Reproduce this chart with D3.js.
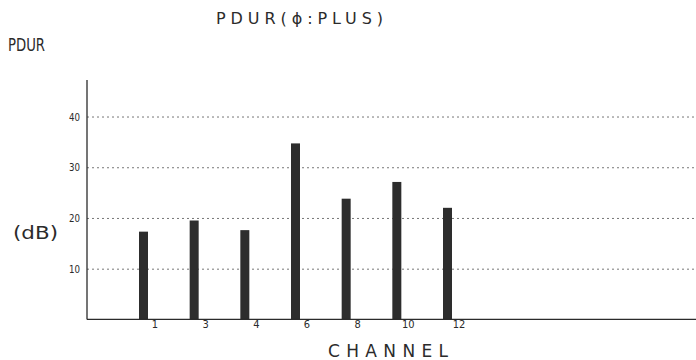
<!DOCTYPE html>
<html><head><meta charset="utf-8">
<script src="https://cdn.jsdelivr.net/npm/d3@7"></script>
<style>
html,body{margin:0;padding:0;background:#fff;}
svg{display:block;}
</style></head>
<body>
<script>
const channels = ["1","3","4","6","8","10","12"];
const values = [17.3, 19.5, 17.6, 34.7, 23.8, 27.1, 22.0];
const yTicks = [10, 20, 30, 40];
const titleText = "PDUR(\u03d5:PLUS)";
const yTitle = "PDUR";
const yUnit = "(dB)";
const xTitle = "CHANNEL";

const W = 696, H = 360;
const svg = d3.select("body").append("svg").attr("width", W).attr("height", H);

const x0 = 87, yBase = 319.4, yTop = 80;
const x = d3.scalePoint().domain(channels).range([143.5, 447.5]);
const y = d3.scaleLinear().domain([0, 47.2]).range([yBase, yTop]);

const ink = "#2b2b2b";
const narrow = "'DejaVu Sans Condensed','Liberation Sans Narrow','DejaVu Sans',sans-serif";

// grid + y tick labels
const gy = svg.append("g").attr("transform", `translate(${x0},0)`)
  .call(d3.axisLeft(y).tickValues(yTicks).tickSize(-(W - x0)).tickPadding(7).tickFormat(d3.format("d")));
gy.select(".domain").remove();
gy.selectAll(".tick line").attr("stroke", "#777").attr("stroke-width", 1).attr("stroke-dasharray", "2,3");
gy.selectAll(".tick text").attr("font-family", narrow).attr("font-size", 11).attr("fill", ink)
  .attr("textLength", 11).attr("lengthAdjust", "spacingAndGlyphs");

// bars
svg.append("g").selectAll("rect").data(values).join("rect")
  .attr("x", (d, i) => x(channels[i]) - 4.5)
  .attr("width", 9)
  .attr("y", d => y(d))
  .attr("height", d => y(0) - y(d))
  .attr("fill", "#2d2d2d");

// axis lines
svg.append("line").attr("x1", x0).attr("x2", x0).attr("y1", yTop).attr("y2", yBase)
  .attr("stroke", ink).attr("stroke-width", 1.3);
svg.append("line").attr("x1", x0).attr("x2", W).attr("y1", yBase).attr("y2", yBase)
  .attr("stroke", ink).attr("stroke-width", 1.3);

// x tick labels
const gx = svg.append("g").attr("transform", `translate(0,${yBase})`)
  .call(d3.axisBottom(x).tickSize(0).tickPadding(1));
gx.select(".domain").remove();
gx.selectAll(".tick text").attr("font-family", narrow).attr("font-size", 11).attr("fill", ink)
  .attr("dx", 11);

// titles
svg.append("text").attr("x", 216).attr("y", 24).text(titleText)
  .attr("font-family", "'DejaVu Sans',sans-serif").attr("font-size", 16).attr("fill", ink)
  .attr("textLength", 167).attr("lengthAdjust", "spacing");
svg.append("text").attr("x", 8).attr("y", 51).text(yTitle)
  .attr("font-family", narrow).attr("font-size", 18).attr("fill", ink)
  .attr("textLength", 37).attr("lengthAdjust", "spacingAndGlyphs");
svg.append("text").attr("x", 13).attr("y", 239).text(yUnit)
  .attr("font-family", "'DejaVu Sans',sans-serif").attr("font-size", 17).attr("fill", ink)
  .attr("textLength", 45).attr("lengthAdjust", "spacingAndGlyphs");
svg.append("text").attr("x", 328).attr("y", 357).text(xTitle)
  .attr("font-family", "'DejaVu Sans',sans-serif").attr("font-size", 17).attr("fill", ink)
  .attr("textLength", 120).attr("lengthAdjust", "spacing");
</script>
</body></html>
